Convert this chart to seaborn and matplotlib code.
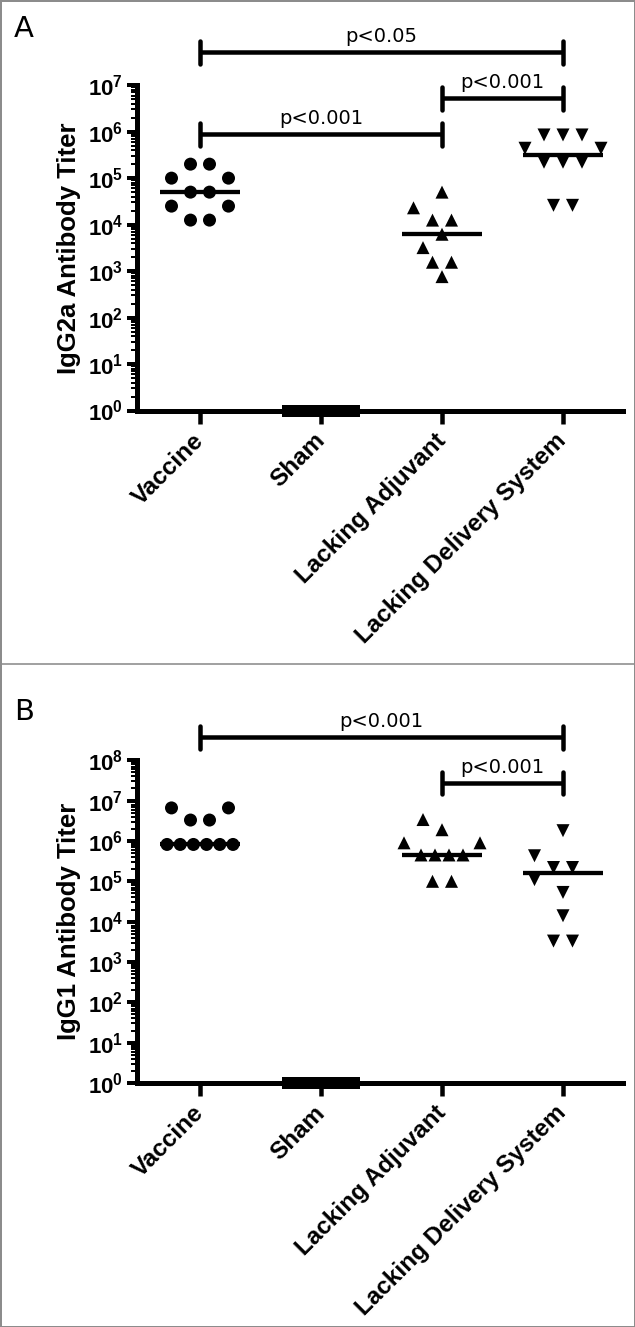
import numpy as np
import pandas as pd
import matplotlib
matplotlib.use("Agg")
import matplotlib.pyplot as plt
import seaborn as sns
from matplotlib.ticker import FixedLocator, FixedFormatter, LogLocator, NullFormatter, NullLocator
from matplotlib.transforms import blended_transform_factory
from matplotlib.patches import Rectangle
from matplotlib.lines import Line2D

# ---------------- data ----------------
groups = ["Vaccine", "Sham", "Lacking Adjuvant", "Lacking Delivery System"]
group_markers = ["o", "s", "^", "v"]

# Panel A: IgG2a titers
igg2a_vaccine = [2.0e5, 2.0e5, 1.0e5, 1.0e5, 5.0e4, 5.0e4, 2.5e4, 2.5e4, 1.25e4, 1.25e4]
igg2a_sham = [1, 1, 1, 1, 1, 1, 1, 1, 1, 1]
igg2a_lacking_adjuvant = [5.0e4, 2.3e4, 1.25e4, 1.25e4, 6.2e3, 3.2e3, 1.55e3, 1.55e3, 7.6e2]
igg2a_lacking_delivery = [8.5e5, 8.5e5, 8.5e5, 4.4e5, 4.4e5, 2.2e5, 2.2e5, 2.2e5, 2.6e4, 2.6e4]
igg2a_medians = [5.0e4, None, 6.2e3, 3.1e5]
igg2a_exponents = [0, 1, 2, 3, 4, 5, 6, 7]
igg2a_ylabel = "IgG2a Antibody Titer"
igg2a_comparisons = [("Vaccine", "Lacking Delivery System", "p<0.05"),
                     ("Lacking Adjuvant", "Lacking Delivery System", "p<0.001"),
                     ("Vaccine", "Lacking Adjuvant", "p<0.001")]

# Panel B: IgG1 titers
igg1_vaccine = [6.6e6, 6.6e6, 3.3e6, 3.3e6, 8.2e5, 8.2e5, 8.2e5, 8.2e5, 8.2e5, 8.2e5]
igg1_sham = [1, 1, 1, 1, 1, 1, 1, 1, 1, 1]
igg1_lacking_adjuvant = [3.4e6, 1.9e6, 9.0e5, 9.0e5, 4.5e5, 4.5e5, 4.5e5, 4.5e5, 1.0e5, 1.0e5]
igg1_lacking_delivery = [1.8e6, 4.3e5, 2.2e5, 2.2e5, 1.1e5, 5.3e4, 1.4e4, 3.3e3, 3.3e3]
igg1_medians = [8.2e5, None, 4.5e5, 1.6e5]
igg1_exponents = [0, 1, 2, 3, 4, 5, 6, 7, 8]
igg1_ylabel = "IgG1 Antibody Titer"
igg1_comparisons = [("Vaccine", "Lacking Delivery System", "p<0.001"),
                    ("Lacking Adjuvant", "Lacking Delivery System", "p<0.001")]

# ---------------- styling ----------------
W, H, DPI = 635, 1327, 100
sns.set_style("ticks")
plt.rcParams.update({
    "font.family": ["Liberation Sans", "DejaVu Sans"],
    "mathtext.fontset": "custom",
    "mathtext.rm": "Liberation Sans",
    "mathtext.bf": "Liberation Sans:bold",
    "mathtext.it": "Liberation Sans:italic",
    "text.color": "black",
    "axes.labelcolor": "black",
    "xtick.color": "black",
    "ytick.color": "black",
    "xtick.labelcolor": "black",
    "ytick.labelcolor": "black",
})


def pt(p):
    return p * 72.0 / DPI


fig = plt.figure(figsize=(W / DPI, H / DPI), dpi=DPI)
fig.patch.set_facecolor("white")

marker_map = dict(zip(groups, group_markers))
size_map = {"Vaccine": pt(13) ** 2, "Sham": pt(12) ** 2,
            "Lacking Adjuvant": pt(13) ** 2, "Lacking Delivery System": pt(13) ** 2}


def row_layout(vals, center, ax, xc, D=19.0, T=17.0):
    """Prism-like scatter layout: identical values in rows, rows pushed apart on overlap."""
    to_px = ax.transData.transform
    ux = to_px((1, 1))[0] - to_px((0, 1))[0]
    uniq = sorted(set(vals), key=lambda v: (-vals.count(v),
                                             abs(np.log10(v) - np.log10(center)), -v))
    placed = []
    out = []
    for v in uniq:
        n = vals.count(v)
        y = to_px((xc, v))[1]
        step = D if n <= 3 else min(14.0, 66.0 / (n - 1))
        base = np.array([(i - (n - 1) / 2) * step for i in range(n)])
        cands = [base]
        for k in range(1, 16):
            s = k * D / 2
            cands.append(base - s)
            cands.append(base + s)
            if n % 2 == 0:
                sp = base.copy()
                sp[: n // 2] -= s
                sp[n // 2:] += s
                cands.append(sp)
        chosen = cands[-1]
        for c in cands:
            if all(np.hypot(cx - qx, y - qy) >= T for cx in c for (qx, qy) in placed):
                chosen = c
                break
        placed += [(cx, y) for cx in chosen]
        out += [(xc + cx / ux, v) for cx in chosen]
    return out


panels = [
    dict(values=[igg2a_vaccine, igg2a_sham, igg2a_lacking_adjuvant, igg2a_lacking_delivery],
         medians=igg2a_medians, exps=igg2a_exponents, ylabel=igg2a_ylabel,
         comps=igg2a_comparisons, letter="A",
         box=(136.5, 623, 85.2, 410.5), bracket_y=[52, 98, 134], letter_base=(14, 37)),
    dict(values=[igg1_vaccine, igg1_sham, igg1_lacking_adjuvant, igg1_lacking_delivery],
         medians=igg1_medians, exps=igg1_exponents, ylabel=igg1_ylabel,
         comps=igg1_comparisons, letter="B",
         box=(136.5, 623, 760.3, 1083), bracket_y=[737, 783], letter_base=(14, 720)),
]

for p in panels:
    l, r, t, b = p["box"]
    ax = fig.add_axes([l / W, 1 - b / H, (r - l) / W, (b - t) / H])
    ax.set_yscale("log")
    ax.set_ylim(10.0 ** p["exps"][0], 10.0 ** p["exps"][-1])
    ax.set_xlim(-(200 - l) / 121.0, -(200 - l) / 121.0 + (r - l) / 121.0)
    ax.set_facecolor("none")

    rows = []
    for gi, (g, vals) in enumerate(zip(groups, p["values"])):
        med = p["medians"][gi] if p["medians"][gi] is not None else float(np.median(vals))
        for x, y in row_layout(list(vals), med, ax, gi):
            rows.append({"group": g, "x": x, "titer": y})
    df = pd.DataFrame(rows)

    sns.scatterplot(data=df, x="x", y="titer", style="group", markers=marker_map,
                    size="group", sizes=size_map, color="black", linewidth=0,
                    legend=False, ax=ax, clip_on=False, zorder=3)

    for gi, med in enumerate(p["medians"]):
        if med is not None:
            ax.hlines(med, gi - 0.33, gi + 0.33, colors="black", lw=pt(4.3), zorder=2)

    # axes styling
    sns.despine(ax=ax)
    for side in ("left", "bottom"):
        ax.spines[side].set_linewidth(pt(5))
        ax.spines[side].set_color("black")
    ax.yaxis.set_major_locator(FixedLocator([10.0 ** k for k in p["exps"]]))
    ax.yaxis.set_major_formatter(FixedFormatter([rf"$\mathbf{{10^{{{k}}}}}$" for k in p["exps"]]))
    ax.yaxis.set_minor_locator(LogLocator(base=10, subs=np.arange(2, 10), numticks=100))
    ax.yaxis.set_minor_formatter(NullFormatter())
    ax.tick_params(axis="y", which="major", length=pt(10.5), width=pt(4), pad=pt(3),
                   labelsize=16, direction="out", color="black", labelcolor="black")
    ax.tick_params(axis="y", which="minor", length=pt(6.5), width=pt(2),
                   direction="out", color="black")
    ax.set_xticks(range(len(groups)))
    ax.set_xticklabels(groups, rotation=45, ha="right", va="center", rotation_mode="anchor",
                       fontweight="bold", fontsize=17.5, color="black")
    ax.xaxis.set_minor_locator(NullLocator())
    ax.tick_params(axis="x", which="major", length=pt(12.5), width=pt(4.5), pad=pt(14),
                   direction="out", color="black")
    ax.set_xlabel("")
    ax.set_ylabel(p["ylabel"], fontsize=18.5, fontweight="bold", color="black")
    ax.yaxis.set_label_coords((81 - l) / (r - l), 0.5)
    ax.yaxis.label.set_va("bottom")

    # significance brackets
    trans = blended_transform_factory(ax.transData, fig.transFigure)
    for (g1, g2, label), by in zip(p["comps"], p["bracket_y"]):
        x1, x2 = groups.index(g1), groups.index(g2)
        yf = 1 - by / H
        cap = 11.5 / H
        ax.plot([x1, x2], [yf, yf], transform=trans, color="black", lw=pt(4.5),
                solid_capstyle="butt", clip_on=False)
        for xx in (x1, x2):
            ax.plot([xx, xx], [yf - cap, yf + cap], transform=trans, color="black",
                    lw=pt(4.5), solid_capstyle="round", clip_on=False)
        ax.text((x1 + x2) / 2, 1 - (by - 10) / H, label, transform=trans,
                ha="center", va="baseline", fontsize=14, family="DejaVu Sans", color="black")

    lx, ly = p["letter_base"]
    fig.text(lx / W, 1 - ly / H, p["letter"], fontsize=21, family="DejaVu Sans",
             ha="left", va="baseline", color="black")

# panel frames
frame_color = "#8c8c8c"
fig.add_artist(Rectangle((0, 0), 1, 1, transform=fig.transFigure, fill=False,
                         ec=frame_color, lw=pt(3)))
fig.add_artist(Line2D([0, 1], [1 - 664 / H, 1 - 664 / H], transform=fig.transFigure,
                      color=frame_color, lw=pt(1.6)))

fig.savefig("out.png", dpi=DPI)
